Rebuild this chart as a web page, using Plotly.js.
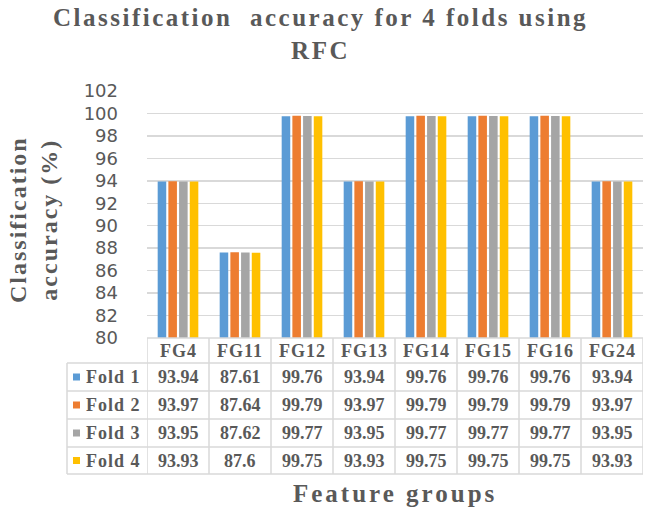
<!DOCTYPE html>
<html>
<head>
<meta charset="utf-8">
<script src="https://cdn.plot.ly/plotly-3.0.1.min.js"></script>
<style>
  html, body { margin: 0; padding: 0; background: #fff; }
  #grafic { width: 646px; height: 510px; }
</style>
</head>
<body>
<div id="grafic"></div>
<script>
// dades del grafic
var categories = ['FG4', 'FG11', 'FG12', 'FG13', 'FG14', 'FG15', 'FG16', 'FG24'];
var fold1 = [93.94, 87.61, 99.76, 93.94, 99.76, 99.76, 99.76, 93.94];
var fold2 = [93.97, 87.64, 99.79, 93.97, 99.79, 99.79, 99.79, 93.97];
var fold3 = [93.95, 87.62, 99.77, 93.95, 99.77, 99.77, 99.77, 93.95];
var fold4 = [93.93, 87.6, 99.75, 93.93, 99.75, 99.75, 99.75, 93.93];
var foldNames = ['Fold 1', 'Fold 2', 'Fold 3', 'Fold 4'];
var foldColors = ['#5B9BD5', '#ED7D31', '#A5A5A5', '#FFC000'];
var folds = [fold1, fold2, fold3, fold4];

// mides de la zona del grafic (px)
var plotLeft = 147, plotRight = 643, plotTop = 91, plotBottom = 338;
var plotW = plotRight - plotLeft, plotH = plotBottom - plotTop;
function paperX(px) { return (px - plotLeft) / plotW; }
function paperY(px) { return (plotBottom - px) / plotH; }

var gris = '#595959';
var linia = '#d9d9d9';
var serif = 'Liberation Serif, Times New Roman, serif';

// barres
var dades = [];
for (var k = 0; k < folds.length; k++) {
    dades.push({
        x: categories, y: folds[k], type: 'bar', name: foldNames[k],
        marker: {color: foldColors[k]}, hoverinfo: 'none'
    });
}

// taula de sota
var filesPx = [338, 363, 391, 419, 447, 474]; // linies horitzontals
var shapes = [];
var annotations = [];

function text(x, y, t, xref, mida, extra) {
    var a = {xref: xref, yref: 'paper', x: x, y: y, text: t, showarrow: false,
        xanchor: 'center', yanchor: 'middle',
        font: {family: serif, size: mida, color: gris}};
    for (var p in extra) a[p] = extra[p];
    annotations.push(a);
}
// text en negreta amb espaiat de lletres (com el Word)
function espaiat(t, px) {
    return '<b><span style="letter-spacing:' + px + 'px">' + t + '</span></b>';
}

// linies horitzontals
for (var r = 0; r < filesPx.length; r++) {
    var x0 = (r == 0) ? 0 : paperX(67);
    shapes.push({type: 'line', xref: 'paper', yref: 'paper', x0: x0, x1: 1,
        y0: paperY(filesPx[r]), y1: paperY(filesPx[r]), line: {color: linia, width: 1.5}});
}
// linies verticals
for (var c = 0; c <= categories.length; c++) {
    shapes.push({type: 'line', xref: 'x', yref: 'paper', x0: c - 0.5, x1: c - 0.5,
        y0: paperY(filesPx[0]), y1: paperY(filesPx[5]), line: {color: linia, width: 1.5}});
}
shapes.push({type: 'line', xref: 'paper', yref: 'paper', x0: paperX(67), x1: paperX(67),
    y0: paperY(filesPx[1]), y1: paperY(filesPx[5]), line: {color: linia, width: 1.5}});

// capsal
for (var c = 0; c < categories.length; c++) {
    text(c, paperY((filesPx[0] + filesPx[1]) / 2), espaiat(categories[c], 1), 'x', 18);
}
// files de dades
for (var k = 0; k < folds.length; k++) {
    var yc = paperY((filesPx[k + 1] + filesPx[k + 2]) / 2);
    for (var c = 0; c < categories.length; c++) {
        text(c, yc, '<b>' + folds[k][c] + '</b>', 'x', 18);
    }
    // quadret de llegenda
    shapes.push({type: 'rect', xref: 'paper', yref: 'paper', x0: paperX(73), x1: paperX(80),
        y0: yc - 3.5 / plotH, y1: yc + 3.5 / plotH, line: {width: 0}, fillcolor: foldColors[k]});
    text(paperX(84), yc, espaiat(foldNames[k], 1), 'paper', 18, {xanchor: 'left'});
}

// titols dels eixos
text(paperX(34), paperY(220), espaiat('Classification', 2) + '<br>' + espaiat('accuracy (%)', 2),
    'paper', 24, {textangle: -90});
text(paperX(395), paperY(493), espaiat('Feature groups', 3), 'paper', 25);
// titol principal
text(paperX(320), paperY(34), espaiat('Classification  accuracy for 4 folds using', 2.5) + '<br>' +
    espaiat('RFC', 2.5), 'paper', 25);

var layout = {
    width: 646, height: 510,
    margin: {l: plotLeft, r: 646 - plotRight, t: plotTop, b: 510 - plotBottom},
    paper_bgcolor: '#fff', plot_bgcolor: '#fff',
    showlegend: false,
    barmode: 'group', bargap: 0.31, bargroupgap: 0.2,
    xaxis: {type: 'category', range: [-0.5, 7.5], showticklabels: false, showgrid: false,
        zeroline: false, showline: false, ticks: ''},
    yaxis: {range: [80, 102], dtick: 2, showgrid: true, gridcolor: linia, gridwidth: 1.5,
        zeroline: false, showline: false, ticks: '', ticklabelstandoff: 28,
        tickfont: {family: 'DejaVu Sans, sans-serif', size: 18, color: gris}},
    shapes: shapes,
    annotations: annotations
};

Plotly.newPlot('grafic', dades, layout, {displayModeBar: false, staticPlot: true});
</script>
</body>
</html>
